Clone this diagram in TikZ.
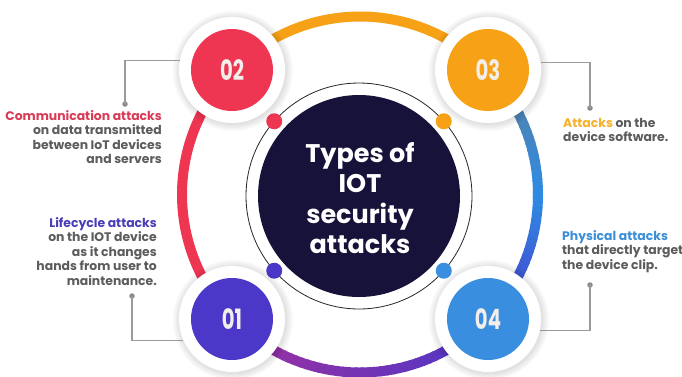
\documentclass[tikz,border=0pt]{standalone}
\usepackage{fontspec}
\setmainfont{Poppins}
\definecolor{cRed}{HTML}{EE3552}
\definecolor{cOrange}{HTML}{F7A116}
\definecolor{cViolet}{HTML}{4B37C8}
\definecolor{cBlue}{HTML}{3A8EE0}
\definecolor{cSteel}{HTML}{5E8199}
\definecolor{cMidBlue}{HTML}{2F8AE4}
\definecolor{cPurple}{HTML}{A2309E}
\definecolor{cDark}{HTML}{16123A}
\definecolor{cGrayTxt}{HTML}{5C5C5C}
\definecolor{cLine}{HTML}{9A9A9A}
\definecolor{cNum}{HTML}{F2EEEA}
\definecolor{tCom}{HTML}{D93A55}
\definecolor{tLife}{HTML}{4B3DB8}
\definecolor{tAtt}{HTML}{F4B12A}
\definecolor{tPhy}{HTML}{3A8ED8}
\begin{document}
\begin{tikzpicture}[x=1pt,y=1pt,
  ringseg/.style={line width=10pt, line cap=butt},
  halo/.style={circle, fill=white, minimum size=106pt, inner sep=0pt},
  numcircle/.style={circle, minimum size=82pt, inner sep=0pt, text=cNum,
    font=\fontsize{28}{28}\selectfont\bfseries},
  conn/.style={draw=cLine, line width=1.1pt},
  dotc/.style={circle, fill=cLine!90!black, minimum size=5.5pt, inner sep=0pt},
  smalldot/.style={circle, minimum size=16pt, inner sep=0pt},
  desc/.style={inner sep=0pt, text=cGrayTxt, font=\fontsize{12.4}{14.5}\selectfont\bfseries},
]
\useasboundingbox (0,0) rectangle (682,-376);
\fill[white] (0,0) rectangle (682,-376);
\coordinate (c) at (360,-194.5);
% outer ring
\draw[ringseg, cOrange] ([shift={(44:178)}]c) arc[start angle=44, end angle=136, radius=178];
\draw[ringseg, cRed] ([shift={(135:178)}]c) arc[start angle=135, end angle=226, radius=178];
\foreach \i in {0,...,22}{
  \pgfmathsetmacro\a{45-2*\i}
  \pgfmathsetmacro\b{\a-2.6}
  \pgfmathsetmacro\p{100*\i/22}
  \colorlet{tmp}{cMidBlue!\p!cSteel}
  \draw[ringseg, tmp] ([shift={(\a:178)}]c) arc[start angle=\a, end angle=\b, radius=178];
}
\foreach \i in {0,...,22}{
  \pgfmathsetmacro\a{0-2*\i}
  \pgfmathsetmacro\b{\a-2.6}
  \pgfmathsetmacro\p{100*\i/22}
  \colorlet{tmp}{cViolet!\p!cMidBlue}
  \draw[ringseg, tmp] ([shift={(\a:178)}]c) arc[start angle=\a, end angle=\b, radius=178];
}
\foreach \i in {0,...,45}{
  \pgfmathsetmacro\a{-45-2*\i}
  \pgfmathsetmacro\b{\a-2.6}
  \pgfmathsetmacro\p{100*\i/45}
  \colorlet{tmp}{cPurple!\p!cViolet}
  \draw[ringseg, tmp] ([shift={(\a:178)}]c) arc[start angle=\a, end angle=\b, radius=178];
}
% inner circles
\coordinate (ic) at (359,-196);
\draw[black!85, line width=0.8pt] (ic) circle[radius=113];
\node[circle, fill=cDark, minimum size=202pt, inner sep=0pt] (core) at (ic) {};
\node[smalldot, fill=cRed] (s2) at ([shift={(138.6:113)}]ic) {};
\node[smalldot, fill=cOrange] (s3) at ([shift={(41.4:113)}]ic) {};
\node[smalldot, fill=cViolet] (s1) at ([shift={(221.4:113)}]ic) {};
\node[smalldot, fill=cBlue] (s4) at ([shift={(-41.4:113)}]ic) {};
\node[align=center, text=white, font=\fontsize{25.5}{30.5}\selectfont\bfseries] (title) at (360,-198)
  {Types of\\IOT\\security\\attacks};
% halos with soft shadow
\foreach \hx/\hy in {232/-70,488/-70,232/-319,488/-319}{
  \foreach \r in {54,55.5,57,58.5,60}{
    \fill[black, opacity=0.025] (\hx+0.8,\hy-1) circle[radius=\r];
  }
}
\node[halo] (h02) at (232,-70) {};
\node[halo] (h03) at (488,-70) {};
\node[halo] (h01) at (232,-319) {};
\node[halo] (h04) at (488,-319) {};
\node[numcircle, fill=cRed] (n02) at (h02) {\scalebox{0.7}[1]{02}};
\node[numcircle, fill=cOrange] (n03) at (h03) {\scalebox{0.7}[1]{03}};
\node[numcircle, fill=cViolet] (n01) at (h01) {\scalebox{0.7}[1]{01}};
\node[numcircle, fill=cBlue] (n04) at (h04) {\scalebox{0.7}[1]{04}};
% connectors
\node[dotc] (d02) at (125,-104) {};
\node[dotc] (d03) at (590,-108) {};
\node[dotc] (d01) at (132,-296) {};
\node[dotc] (d04) at (590,-285) {};
\draw[conn] (h02.170) -| (d02.center);
\draw[conn] (h03.8) -| (d03.center);
\draw[conn] (d01.center) |- (h01.204);
\draw[conn] (h04.-12) -| (d04.center);
% descriptions
\node[desc, align=right, anchor=north east] (t02) at (162,-110)
  {\textcolor{tCom}{Communication attacks}\\on data transmitted\\between IoT devices\\and servers};
\node[desc, align=right, anchor=north east] (t01) at (157,-217)
  {\textcolor{tLife}{Lifecycle attacks}\\on the IOT device\\as it changes\\hands from user to\\maintenance.};
\node[desc, align=left, anchor=north west] (t03) at (563,-118)
  {\textcolor{tAtt}{Attacks} on the\\device software.};
\node[desc, align=left, anchor=north west] (t04) at (562,-230)
  {\textcolor{tPhy}{Physical attacks}\\that directly target\\the device clip.};
\end{tikzpicture}
\end{document}
